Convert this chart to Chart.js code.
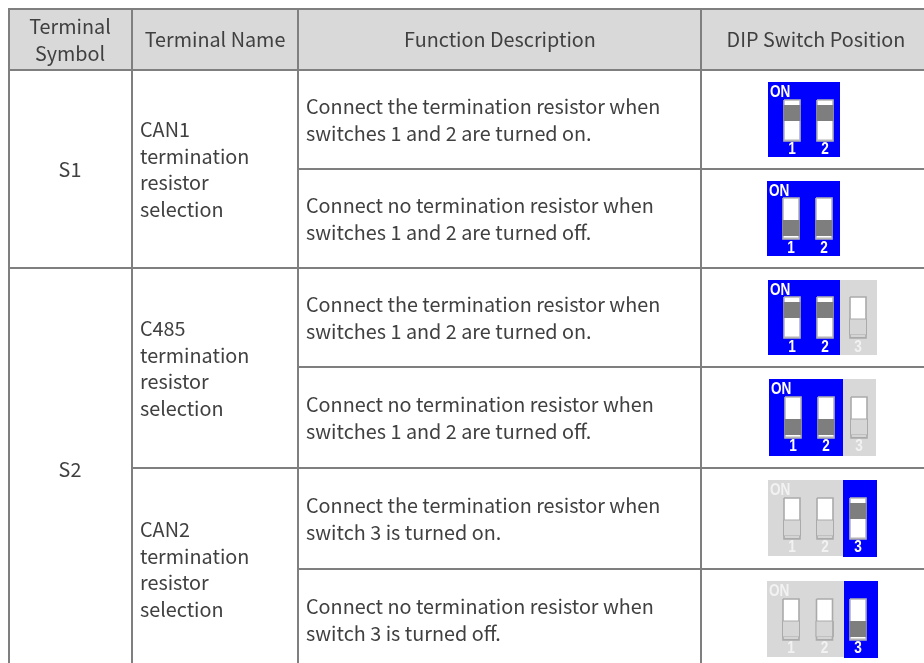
<!DOCTYPE html>
<html>
<head>
<meta charset="utf-8">
<title>DIP switch table</title>
<style>
    html, body { margin: 0; padding: 0; background: #fff; overflow: hidden; }
    canvas { display: block; }
</style>
<script src="https://cdn.jsdelivr.net/npm/chart.js@4"></script>
</head>
<body>
<canvas id="chart" width="924" height="663"></canvas>
<script>
/* ============================================================
   Table content
   ============================================================ */
const headerLabels = [["Terminal", "Symbol"], ["Terminal Name"], ["Function Description"], ["DIP Switch Position"]];
const terminalSymbols = ["S1", "S2"];
const terminalNames = [
    ["CAN1", "termination", "resistor", "selection"],
    ["C485", "termination", "resistor", "selection"],
    ["CAN2", "termination", "resistor", "selection"]
];
const descriptions = [
    ["Connect the termination resistor when", "switches 1 and 2 are turned on."],
    ["Connect no termination resistor when", "switches 1 and 2 are turned off."],
    ["Connect the termination resistor when", "switches 1 and 2 are turned on."],
    ["Connect no termination resistor when", "switches 1 and 2 are turned off."],
    ["Connect the termination resistor when", "switch 3 is turned on."],
    ["Connect no termination resistor when", "switch 3 is turned off."]
];
// per row: which switches exist in the picture, which are highlighted, and up = on
const switchCount = [2, 2, 3, 3, 3, 3];
const activeSwitches = [[1, 2], [1, 2], [1, 2], [1, 2], [3], [3]];
const switchOn = [true, false, true, false, true, false];
const switchCaption = "ON";

/* ============================================================
   Layout, in page pixels (the axes run 0-924 and 0-663)
   ============================================================ */
const columnLines = [9, 132, 298, 701];
const rowLines = [9, 70, 169, 268, 367, 468, 569];
const panelLeft = [768, 767, 768, 769, 768, 767];
const panelSplit = [840, 840, 840, 843, 843, 844];
const panelRight = [840, 840, 877, 876, 877, 878];
const panelTop = [82, 181, 280, 379, 480, 581];
const panelBottom = [157, 256, 355, 456, 557, 658];
const switchLeft = [784, 783, 784, 785, 784, 783];
const switchTop = [100, 198, 297, 397, 498, 599];
const switchPitch = [33, 33, 33, 33, 33, 33.5];

const LINE = "#7f7f7f", HEADER = "#d9d9d9", BLUE = "#0000ff", PANEL = "#d8d8d8";
const TEXT = "#404040", FONT = '"Noto Sans CJK SC"', NARROW = '"Liberation Sans"';

/* ============================================================
   Helpers that turn the layout into chart datasets
   ============================================================ */
function rect(x0, y0, x1, y1, color, border, borderWidth) {
    return {
        data: [{ x: x0, y: y0 }, { x: x1, y: y0 }, { x: x1, y: y1 }, { x: x0, y: y1 }, { x: x0, y: y0 }],
        showLine: true,
        fill: "shape",
        backgroundColor: color,
        borderColor: border || color,
        borderWidth: borderWidth || 0,
        pointRadius: 0,
        tension: 0
    };
}

function line(x0, y0, x1, y1) {
    return {
        data: [{ x: x0, y: y0 }, { x: x1, y: y1 }],
        showLine: true,
        fill: false,
        borderColor: LINE,
        borderWidth: 2,
        pointRadius: 0
    };
}

function buildGrid() {
    const right = 924, bottom = 663;
    const sets = [rect(columnLines[0], rowLines[0], right, rowLines[1], HEADER)];

    sets.push(line(columnLines[0] - 1, rowLines[0], right, rowLines[0]));
    sets.push(line(columnLines[0], rowLines[1], right, rowLines[1]));
    sets.push(line(columnLines[0], rowLines[3], right, rowLines[3]));
    sets.push(line(columnLines[2], rowLines[2], right, rowLines[2]));
    sets.push(line(columnLines[2], rowLines[4], right, rowLines[4]));
    sets.push(line(columnLines[1], rowLines[5], right, rowLines[5]));
    sets.push(line(columnLines[2], rowLines[6], right, rowLines[6]));
    columnLines.forEach(x => sets.push(line(x, rowLines[0], x, bottom)));
    return sets;
}

function buildSwitches() {
    const sets = [];
    switchOn.forEach((on, row) => {
        const top = panelTop[row], left = panelLeft[row];
        const blueFirst = activeSwitches[row].includes(1);
        const split = panelSplit[row], end = panelRight[row];

        if (blueFirst) {
            sets.push(rect(left, top, split, panelBottom[row], BLUE));
            if (end > split) sets.push(rect(split, top, end, panelBottom[row], PANEL));
        } else {
            sets.push(rect(left, top, split, panelBottom[row] - 1, PANEL));
            sets.push(rect(split, top, end, panelBottom[row], BLUE));
        }

        for (let n = 1; n <= switchCount[row]; n++) {
            const active = activeSwitches[row].includes(n);
            const x0 = switchLeft[row] + (n - 1) * switchPitch[row];
            const x1 = x0 + 16;
            const y0 = switchTop[row], y1 = y0 + 41;
            const edge = active ? "#b4b4b4" : "#aaaaaa";
            const slider = active ? "#7e7e7e" : "#d6d6d6";
            sets.push(rect(x0, y0, x1, y1, "#ffffff", edge, 1.6));
            // little lip at the bottom of the housing
            sets.push(rect(x0, y1 - 1.5, x1, y1, edge));
            // greyed out switches always sit in the lower position
            sets.push(on && active
                ? rect(x0 - 0.5, y0 + 5, x1 + 0.5, y0 + 21, slider)
                : rect(x0 - 0.5, y1 - 19, x1 + 0.5, y1 - 3, slider, active ? slider : edge, active ? 0 : 1));
        }
    });
    return sets;
}

/* ============================================================
   All text goes through the same scales as the shapes
   ============================================================ */
const textPlugin = {
    id: "tableText",
    afterDatasetsDraw(chart) {
        const { ctx, scales } = chart;
        const put = (str, x, y, align, font, color, squeeze) => {
            ctx.save();
            ctx.font = font;
            ctx.fillStyle = color;
            ctx.textAlign = align;
            ctx.textBaseline = "alphabetic";
            ctx.translate(scales.x.getPixelForValue(x), scales.y.getPixelForValue(y));
            ctx.scale(squeeze || 1, 1);
            ctx.fillText(str, 0, 0);
            ctx.restore();
        };
        const body = `19.8px ${FONT}`;

        // header
        const centers = [70, 215, 500, 816];
        headerLabels.forEach((rows, c) => {
            const first = rows.length > 1 ? 34 : 47;
            rows.forEach((s, i) => put(s, centers[c], first + i * 27, "center", body, TEXT));
        });

        // first two columns
        const symbolBase = [177, 477];
        terminalSymbols.forEach((s, i) => put(s, 70, symbolBase[i], "center", body, TEXT));
        const nameFirst = [137, 336, 537];
        terminalNames.forEach((rows, i) => {
            rows.forEach((s, j) => put(s, 140, nameFirst[i] + j * 26.7, "left", body, TEXT));
        });

        // descriptions
        const descFirst = [114, 213, 312, 412, 513, 614];
        descriptions.forEach((rows, i) => {
            rows.forEach((s, j) => put(s, 306, descFirst[i] + j * 27, "left", body, TEXT));
        });

        // switch captions
        const narrow = `bold 17px ${NARROW}`;
        switchOn.forEach((on, row) => {
            const left = panelLeft[row], top = panelTop[row];
            const onColor = activeSwitches[row].includes(1) ? "#ffffff" : "#f2f2f2";
            put(switchCaption, left + 2, top + 15, "left", narrow, onColor, 0.8);
            for (let n = 1; n <= switchCount[row]; n++) {
                const color = activeSwitches[row].includes(n) ? "#ffffff" : "#f2f2f2";
                put(String(n), switchLeft[row] + (n - 1) * switchPitch[row] + 8, top + 72, "center", narrow, color, 0.8);
            }
        });
    }
};

/* ============================================================
   Chart (the first dataset is painted last, hence the reverse)
   ============================================================ */
new Chart(document.getElementById("chart"), {
    type: "scatter",
    data: { datasets: [...buildGrid(), ...buildSwitches()].reverse() },
    plugins: [textPlugin],
    options: {
        responsive: false,
        animation: false,
        devicePixelRatio: 1,
        layout: { padding: 0 },
        plugins: { legend: { display: false }, tooltip: { enabled: false } },
        scales: {
            x: { type: "linear", min: 0, max: 924, display: false },
            y: { type: "linear", min: 0, max: 663, reverse: true, display: false }
        }
    }
});
</script>
</body>
</html>
